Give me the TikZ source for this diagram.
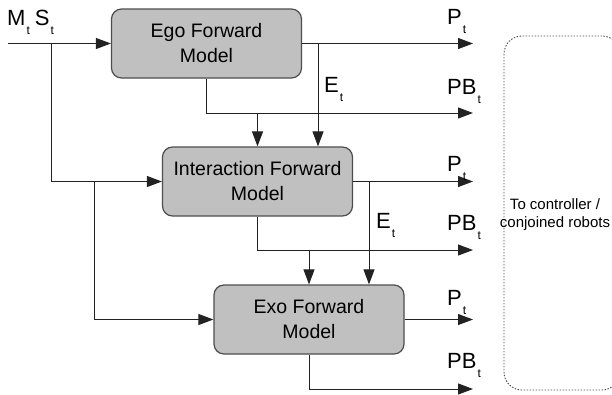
\documentclass[tikz,border=0pt]{standalone}
\usepackage{fontspec}
\setmainfont{Liberation Sans}
\usetikzlibrary{arrows.meta}
\definecolor{boxfill}{HTML}{C0C0C0}
\definecolor{boxline}{HTML}{4D4D4D}
\definecolor{wirecol}{HTML}{222222}
% signal name with a dropped subscript
\newcommand{\sig}[2]{#1\hspace{1pt}\raisebox{-9.5pt}{\fontsize{12}{12}\selectfont #2}}

\begin{document}
\begin{tikzpicture}[x=1pt,y=-1pt,
  model/.style={draw=boxline, line width=1.2pt, fill=boxfill, rounded corners=10pt,
    minimum width=190pt, minimum height=69pt, align=center,
    font=\fontsize{19.5}{25}\selectfont, inner sep=0pt},
  wire/.style={draw=wirecol, line width=1pt},
  flow/.style={wire, -{Triangle[length=15pt,width=11pt]}},
  lbl/.style={anchor=base west, inner sep=0pt, font=\fontsize{22}{22}\selectfont},
  outbox/.style={draw=boxline, line width=0.9pt, dash pattern=on 1.5pt off 1.5pt,
    rounded corners=18pt, inner sep=0pt},
]
\useasboundingbox (0,0) rectangle (612,394);
\clip (0,0) rectangle (612,394);

% forward models
\node[model] (ego)   at (206.5,43.5)  {Ego Forward\\Model};
\node[model] (inter) at (257.5,181.5) {Interaction Forward\\Model};
\node[model] (exo)   at (309,319.5)   {Exo Forward\\Model};

% input and its branches
\coordinate (in) at (8,43.5);
\coordinate (j1) at (51,43.5);
\coordinate (j2) at (94,181.5);
\draw[flow] (in) -- (ego.west);
\draw[flow] (j1) |- (inter.west);
\draw[flow] (j2) |- (exo.west);

% ego outputs
\coordinate (egoP)  at (473,43.5);
\coordinate (egoE)  at (318,43.5);
\coordinate (egoPB) at (473,113);
\coordinate (egoB)  at (257.5,113);
\draw[flow] (ego.east) -- (egoP);
\draw[flow] (egoE) -- (egoE |- inter.north);
\draw[flow] (ego.south) |- (egoPB);
\draw[flow] (egoB) -- (inter.north);

% interaction outputs
\coordinate (intP)  at (473,181.5);
\coordinate (intE)  at (369,181.5);
\coordinate (intPB) at (473,250);
\coordinate (intB)  at (309,250);
\draw[flow] (inter.east) -- (intP);
\draw[flow] (intE) -- (intE |- exo.north);
\draw[flow] (inter.south) |- (intPB);
\draw[flow] (intB) -- (exo.north);

% exo outputs
\coordinate (exoP)  at (473,319.5);
\coordinate (exoPB) at (473,389);
\draw[flow] (exo.east) -- (exoP);
\draw[flow] (exo.south) |- (exoPB);

% signal labels
\node[lbl] (lin) at (7,25) {\sig{M}{t}\hspace{5pt}\sig{S}{t}};
\node[lbl] (l1) at (447,24)  {\sig{P}{t}};
\node[lbl] (l2) at (447,94)  {\sig{PB}{t}};
\node[lbl] (l3) at (324,92)  {\sig{E}{t}};
\node[lbl] (l4) at (447,171) {\sig{P}{t}};
\node[lbl] (l5) at (447,230) {\sig{PB}{t}};
\node[lbl] (l6) at (376,228) {\sig{E}{t}};
\node[lbl] (l7) at (447,305) {\sig{P}{t}};
\node[lbl] (l8) at (447,368) {\sig{PB}{t}};

% destination of the outputs, running on past the right edge
\node[outbox, minimum width=116pt, minimum height=354pt] (ctrl) at (562,213) {};
\node[anchor=base, align=center, inner sep=0pt,
  font=\fontsize{15}{18}\selectfont] (ctrltxt) at (555,227)
  {To controller /\\conjoined robots};
\end{tikzpicture}
\end{document}
